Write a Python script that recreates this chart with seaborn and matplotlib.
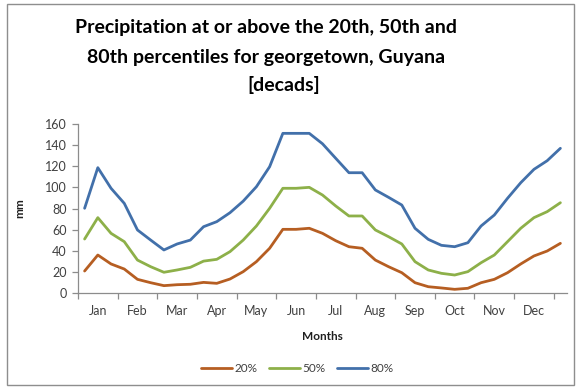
import matplotlib
matplotlib.use("Agg")
import matplotlib.pyplot as plt
from matplotlib.patches import Rectangle
from matplotlib.lines import Line2D
import seaborn as sns
import pandas as pd
import numpy as np

# Decadal precipitation percentiles (mm), 37 decads
p20 = [20.6, 35.8, 27.3, 22.5, 12.7, 9.5, 6.7, 7.6, 8.0, 9.8, 8.9, 13.0,
       20.0, 29.5, 42.2, 60.2, 60.2, 61.2, 56.4, 49.4, 43.7, 42.2, 31.0, 24.7,
       19.0, 9.5, 5.7, 4.5, 3.2, 4.2, 9.5, 12.7, 19.0, 27.3, 34.9, 39.6, 46.9]
p50 = [51.0, 71.3, 56.4, 48.5, 31.0, 24.7, 19.4, 21.6, 24.1, 30.0, 31.7, 39.0,
       50.0, 63.4, 80.2, 99.2, 99.2, 100.1, 92.8, 82.4, 72.9, 72.9, 59.6, 53.2,
       46.3, 29.5, 21.6, 18.4, 16.8, 20.0, 28.5, 35.8, 48.5, 61.2, 71.3, 77.0, 85.5]
p80 = [80.2, 118.8, 99.2, 84.9, 59.6, 50.0, 40.6, 46.3, 50.0, 62.7, 67.5, 76.0,
       87.0, 100.7, 119.7, 151.4, 151.4, 151.4, 141.5, 127.7, 114.0, 114.0, 97.6, 90.6,
       83.3, 61.2, 50.7, 45.0, 43.7, 47.5, 63.4, 73.8, 89.7, 104.5, 117.2, 125.4, 137.2]
months = ["Jan", "Feb", "Mar", "Apr", "May", "Jun",
          "Jul", "Aug", "Sep", "Oct", "Nov", "Dec"]
series_names = ["20%", "50%", "80%"]
colors = ["#B65E22", "#8DB049", "#4270AA"]

n = len(p20)
decad = np.arange(n)
df = pd.DataFrame({
    "decad": np.tile(decad, 3),
    "mm": p20 + p50 + p80,
    "series": np.repeat(series_names, n),
})

sns.set_theme(style="white")
plt.rcParams["font.family"] = ["Lato", "DejaVu Sans"]

W, H = 578, 388
fig = plt.figure(figsize=(W / 100, H / 100), dpi=100)
ax = fig.add_axes([78 / W, 1 - 292.7 / H, (567 - 78) / W, (292.7 - 124.3) / H])

sns.lineplot(data=df, x="decad", y="mm", hue="series", palette=colors,
             hue_order=series_names, linewidth=2.0, ax=ax, legend=False)

ax.set_xlim(-0.5, n - 0.5)
ax.set_ylim(0, 160)
ax.set_yticks(np.arange(0, 161, 20))

# month boundaries as tick marks, month names centred between them
ax.set_xticks(np.arange(-0.5, 36, 3))
ax.set_xticklabels([])
ax.set_xticks(np.arange(1, 36, 3), minor=True)
ax.set_xticklabels(months, minor=True)

axis_gray = "#8C8C8C"
text_gray = "#404040"
for s in ["top", "right"]:
    ax.spines[s].set_visible(False)
for s in ["left", "bottom"]:
    ax.spines[s].set_color(axis_gray)
    ax.spines[s].set_linewidth(0.9)

ax.tick_params(axis="y", which="major", direction="out", length=4, width=0.9,
               color=axis_gray, labelsize=9, labelcolor=text_gray, pad=4, left=True)
ax.tick_params(axis="x", which="major", direction="out", length=4, width=0.9,
               color=axis_gray, bottom=True)
ax.tick_params(axis="x", which="minor", length=0, labelsize=9,
               labelcolor=text_gray, pad=9)

ax.set_xlabel("Months", fontsize=8.5, fontweight="bold", color="#202020", labelpad=10)
ax.set_ylabel("mm", fontsize=8.5, fontweight="bold", color="#202020", labelpad=14)
ax.grid(False)

# title
title_lines = ["Precipitation at or above the 20th, 50th and",
               "80th percentiles for georgetown, Guyana",
               "[decads]"]
title_pos = [(266, 27), (266, 57), (284, 85)]
for txt, (tx, ty) in zip(title_lines, title_pos):
    fig.text(tx / W, 1 - ty / H, txt, ha="center", va="center",
             fontsize=14, fontweight="bold", color="#000000")

# legend below the axis title
handles = [Line2D([0], [0], color=c, lw=2.0) for c in colors]
fig.legend(handles, series_names, loc="center", bbox_to_anchor=(297 / W, 1 - 369 / H),
           ncol=3, frameon=False, fontsize=8.5, handlelength=2.6, handletextpad=0.2,
           columnspacing=1.0, labelcolor=text_gray)

# chart border
fig.patches.append(Rectangle((7 / W, 1 - 385 / H), (574 - 7) / W, (385 - 4) / H,
                             transform=fig.transFigure, fill=False,
                             edgecolor="#8E8E8E", linewidth=1.0))

fig.savefig("out.png", dpi=100, facecolor="white")
